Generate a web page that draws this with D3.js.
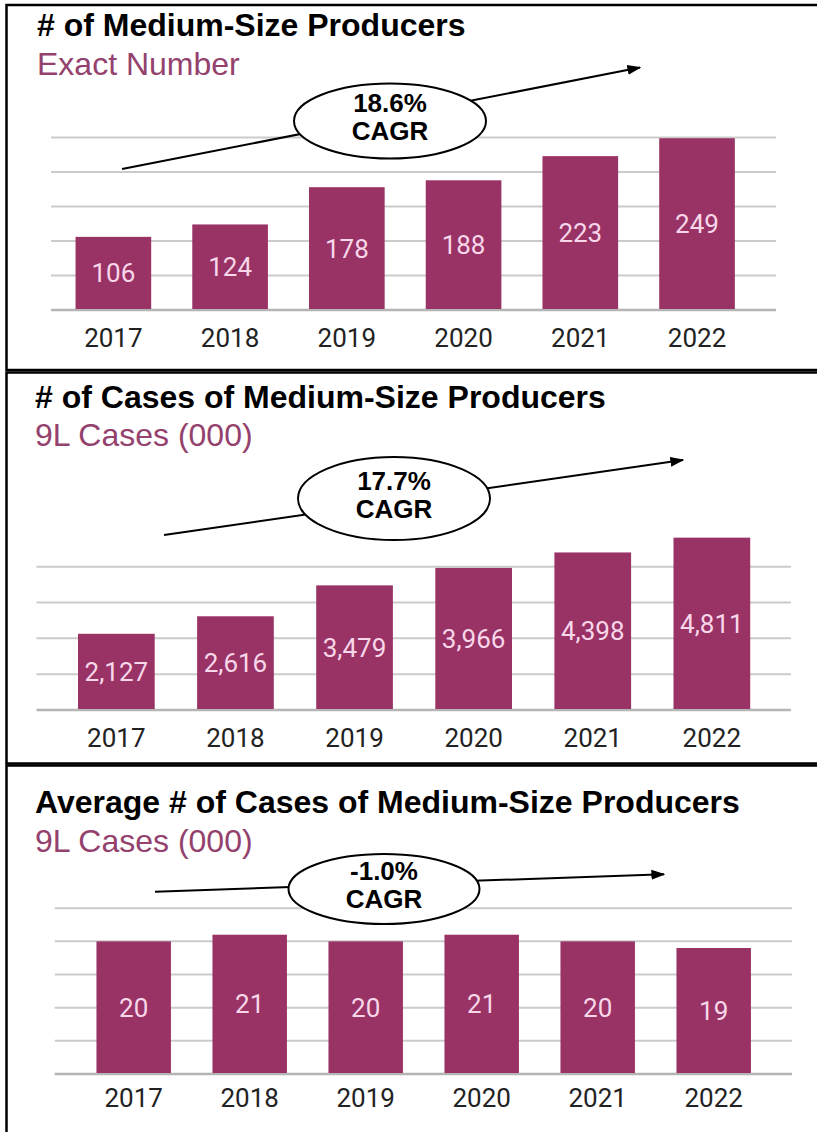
<!DOCTYPE html>
<html>
<head>
<meta charset="utf-8">
<script src="https://cdn.jsdelivr.net/npm/d3@7"></script>
<style>
  html, body { margin: 0; padding: 0; background: #fff; }
  svg { display: block; }
</style>
</head>
<body>
<div id="chart"></div>
<script>
const years = ["2017", "2018", "2019", "2020", "2021", "2022"];
const producers = [106, 124, 178, 188, 223, 249];
const cases = [2127, 2616, 3479, 3966, 4398, 4811];
const avgCases = [20, 21, 20, 21, 20, 19];

const titles = [
  "# of Medium-Size Producers",
  "# of Cases of Medium-Size Producers",
  "Average # of Cases of Medium-Size Producers"
];
const subtitles = ["Exact Number", "9L Cases (000)", "9L Cases (000)"];
const cagrLabels = ["18.6%", "17.7%", "-1.0%"];
const gridTicks = [
  [0, 50, 100, 150, 200, 250],
  [0, 1000, 2000, 3000, 4000],
  [0, 5, 10, 15, 20, 25]
];

const barColor = "#9a3365";
const subColor = "#94416d";
const labelColor = "#f8d7ea";

// layout of each boxed panel (pixels)
const panels = [
  { values: producers, fmt: d3.format("d"), top: 5, bottom: 370, titleX: 37, titleY: 36, subY: 75,
    band: [55, 755.4], pad: 0.352, base: 310, topY: 137.5, grid: [51, 776], yearY: 347,
    ell: { cx: 390, cy: 121, rx: 96, ry: 37.5 }, arrow: [[122, 169], [640, 67.5]] },
  { values: cases, fmt: d3.format(","), top: 372.5, bottom: 763.5, titleX: 35, titleY: 408, subY: 446,
    band: [56.8, 771.4], pad: 0.356, base: 710, topY: 566.7, grid: [36.5, 791], yearY: 747,
    ell: { cx: 394, cy: 498.5, rx: 96, ry: 41.5 }, arrow: [[164, 535], [683, 460]] },
  { values: avgCases, fmt: d3.format("d"), top: 765.5, bottom: 1150, titleX: 35, titleY: 813, subY: 852,
    band: [75.7, 771.7], pad: 0.358, base: 1074, topY: 908.2, grid: [54.7, 792], yearY: 1107,
    ell: { cx: 384, cy: 889, rx: 95.5, ry: 35 }, arrow: [[155, 891.7], [664, 874.3]] }
];

const svg = d3.select("#chart").append("svg")
  .attr("width", 817)
  .attr("height", 1132);

svg.append("defs").append("marker")
  .attr("id", "arrowhead")
  .attr("viewBox", "0 0 10 10")
  .attr("refX", 9)
  .attr("refY", 5)
  .attr("markerWidth", 7)
  .attr("markerHeight", 7)
  .attr("markerUnits", "strokeWidth")
  .attr("orient", "auto")
  .append("path")
  .attr("d", "M0,1.5L10,5L0,8.5Z")
  .attr("fill", "#000");

panels.forEach((p, i) => {
  const g = svg.append("g");
  const data = years.map((year, j) => ({ year, value: p.values[j] }));
  const ticks = gridTicks[i];

  const x = d3.scaleBand().domain(years).range(p.band).paddingInner(p.pad).paddingOuter(p.pad / 2);
  const y = d3.scaleLinear().domain([0, d3.max(ticks)]).range([p.base, p.topY]);

  // panel frame
  g.append("rect")
    .attr("x", 6.5)
    .attr("y", p.top)
    .attr("width", 900)
    .attr("height", p.bottom - p.top)
    .attr("fill", "none")
    .attr("stroke", "#000")
    .attr("stroke-width", 2.5);

  g.append("text")
    .attr("x", p.titleX)
    .attr("y", p.titleY)
    .style("font-family", "'Liberation Sans', Arial, sans-serif")
    .style("font-weight", "bold")
    .style("font-size", "32px")
    .style("fill", "#000")
    .text(titles[i]);

  g.append("text")
    .attr("x", p.titleX)
    .attr("y", p.subY)
    .style("font-family", "'Liberation Sans', Arial, sans-serif")
    .style("font-size", "32px")
    .style("fill", subColor)
    .text(subtitles[i]);

  // gridlines
  g.selectAll(".grid")
    .data(ticks)
    .join("line")
    .attr("x1", p.grid[0])
    .attr("x2", p.grid[1])
    .attr("y1", d => y(d))
    .attr("y2", d => y(d))
    .attr("stroke", d => d === 0 ? "#b5b5b5" : "#cbcbcb")
    .attr("stroke-width", d => d === 0 ? 2.5 : 2);

  g.selectAll(".bar")
    .data(data)
    .join("rect")
    .attr("x", d => x(d.year))
    .attr("y", d => y(d.value))
    .attr("width", x.bandwidth())
    .attr("height", d => y(0) - y(d.value) - 1)
    .attr("fill", barColor);

  g.selectAll(".value")
    .data(data)
    .join("text")
    .attr("x", d => x(d.year) + x.bandwidth() / 2)
    .attr("y", d => (y(d.value) + y(0)) / 2 + 9)
    .attr("text-anchor", "middle")
    .style("font-family", "Roboto, sans-serif")
    .style("font-size", "26px")
    .style("fill", labelColor)
    .text(d => p.fmt(d.value));

  g.selectAll(".year")
    .data(data)
    .join("text")
    .attr("x", d => x(d.year) + x.bandwidth() / 2)
    .attr("y", p.yearY)
    .attr("text-anchor", "middle")
    .style("font-family", "Roboto, sans-serif")
    .style("font-size", "26px")
    .style("fill", "#222")
    .text(d => d.year);

  // CAGR arrow and callout
  g.append("line")
    .attr("x1", p.arrow[0][0])
    .attr("y1", p.arrow[0][1])
    .attr("x2", p.arrow[1][0])
    .attr("y2", p.arrow[1][1])
    .attr("stroke", "#000")
    .attr("stroke-width", 2)
    .attr("marker-end", "url(#arrowhead)");

  g.append("ellipse")
    .attr("cx", p.ell.cx)
    .attr("cy", p.ell.cy)
    .attr("rx", p.ell.rx)
    .attr("ry", p.ell.ry)
    .attr("fill", "#fff")
    .attr("stroke", "#000")
    .attr("stroke-width", 2);

  const cagr = g.append("text")
    .attr("text-anchor", "middle")
    .style("font-family", "'Liberation Sans', Arial, sans-serif")
    .style("font-weight", "bold")
    .style("font-size", "26px")
    .style("fill", "#000");
  cagr.append("tspan").attr("x", p.ell.cx).attr("y", p.ell.cy - 9).text(cagrLabels[i]);
  cagr.append("tspan").attr("x", p.ell.cx).attr("y", p.ell.cy + 19).text("CAGR");
});
</script>
</body>
</html>
